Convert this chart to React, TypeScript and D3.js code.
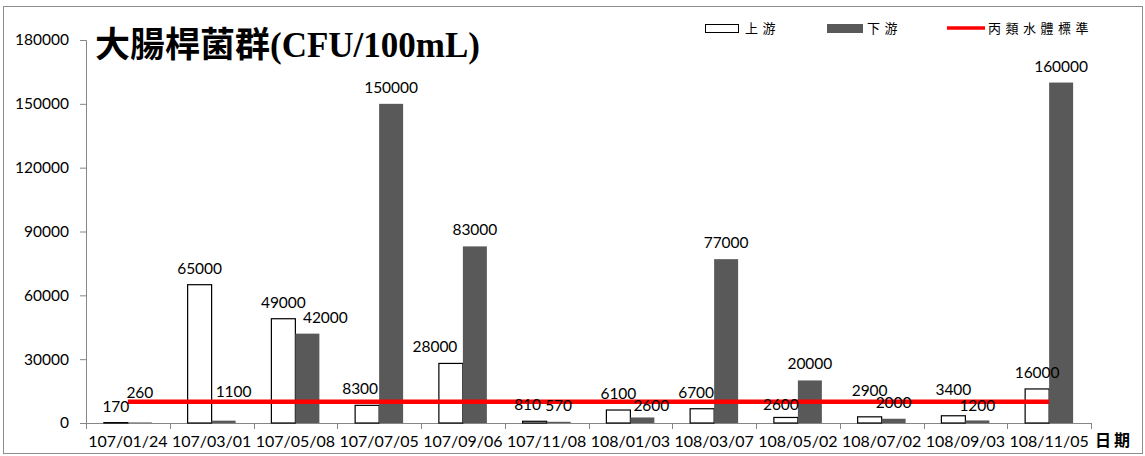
import React, { useEffect, useRef } from "react";
import * as d3 from "d3";

// sampling dates (ROC calendar)
const dates = [
  "107/01/24", "107/03/01", "107/05/08", "107/07/05", "107/09/06", "107/11/08",
  "108/01/03", "108/03/07", "108/05/02", "108/07/02", "108/09/03", "108/11/05",
];
// 上游 (upstream)
const upstream = [170, 65000, 49000, 8300, 28000, 810, 6100, 6700, 2600, 2900, 3400, 16000];
// 下游 (downstream)
const downstream = [260, 1100, 42000, 150000, 83000, 570, 2600, 77000, 20000, 2000, 1200, 160000];
// 丙類水體標準
const standard = [10000, 10000, 10000, 10000, 10000, 10000, 10000, 10000, 10000, 10000, 10000, 10000];
const yTicks = [0, 30000, 60000, 90000, 120000, 150000, 180000];

// hand nudges for the data labels, the way they were dragged in the original
const upNudge: Record<number, [number, number]> = {
  3: [-7, 0], 4: [-16, 0], 5: [-7, 0], 7: [-6, 0], 8: [-5, 3.5], 9: [0, -10], 10: [0, -10],
};
const downNudge: Record<number, [number, number]> = {
  0: [0, -13], 1: [10, -13], 2: [18, 0], 6: [9, 5], 10: [0, 2],
};

const W = 1145;
const H = 456;
const numFont = "Lato, 'Open Sans', sans-serif";
const cjkFont = "'Noto Sans CJK TC', 'Noto Sans CJK SC', sans-serif";

const App: React.FC = () => {
  const svgRef = useRef<SVGSVGElement | null>(null);

  useEffect(() => {
    const svg = d3.select(svgRef.current);
    svg.selectAll("*").remove();

    const margin = { top: 40, right: 54, bottom: 33, left: 86 };
    const x0 = margin.left;
    const x1 = W - margin.right;
    const yBase = H - margin.bottom;

    const xScale = d3.scaleBand().domain(dates).range([x0, x1]).padding(0);
    const sub = d3
      .scaleBand()
      .domain(["up", "down"])
      .range([0, xScale.bandwidth()])
      .paddingInner(0)
      .paddingOuter(0.745);
    const yScale = d3.scaleLinear().domain([0, 180000]).range([yBase, margin.top]);

    // outer frame
    svg
      .append("rect")
      .attr("x", 3.5)
      .attr("y", 6.5)
      .attr("width", W - 6)
      .attr("height", H - 9)
      .attr("fill", "white")
      .attr("stroke", "#8c8c8c")
      .attr("stroke-width", 1);

    const axisColor = "#868686";

    // y axis
    const yAxis = svg
      .append("g")
      .attr("transform", `translate(${x0},0)`)
      .call(d3.axisLeft(yScale).tickValues(yTicks).tickSize(6).tickPadding(11).tickFormat((d) => String(d)));
    yAxis.select(".domain").attr("stroke", axisColor).attr("d", `M-6,${margin.top}.5H0.5V${yBase}`);
    yAxis.selectAll(".tick line").attr("stroke", axisColor);
    yAxis
      .selectAll(".tick text")
      .attr("fill", "#000")
      .style("font-family", numFont)
      .style("font-size", "15.5px");

    // x axis
    const xAxis = svg.append("g").attr("transform", `translate(0,${yBase})`);
    xAxis
      .append("line")
      .attr("x1", x0)
      .attr("x2", x1)
      .attr("y1", 0.5)
      .attr("y2", 0.5)
      .attr("stroke", axisColor);
    const bounds = dates.map((d) => xScale(d)!).concat([x1]);
    xAxis
      .selectAll("line.tk")
      .data(bounds)
      .enter()
      .append("line")
      .attr("class", "tk")
      .attr("x1", (d) => Math.round(d) + 0.5)
      .attr("x2", (d) => Math.round(d) + 0.5)
      .attr("y1", 0)
      .attr("y2", 6)
      .attr("stroke", axisColor);
    xAxis
      .selectAll("text.lbl")
      .data(dates)
      .enter()
      .append("text")
      .attr("class", "lbl")
      .attr("x", (d) => xScale(d)! + xScale.bandwidth() / 2)
      .attr("y", 24)
      .attr("text-anchor", "middle")
      .style("font-family", numFont)
      .style("font-size", "16px")
      .text((d) => d);
    xAxis
      .append("text")
      .attr("x", x1 + 4)
      .attr("y", 23)
      .style("font-family", cjkFont)
      .style("font-weight", "bold")
      .style("font-size", "16px")
      .style("letter-spacing", "3px")
      .text("日期");

    // bars
    const groups = svg
      .append("g")
      .selectAll("g")
      .data(dates)
      .enter()
      .append("g")
      .attr("transform", (d) => `translate(${xScale(d)},0)`);

    groups
      .append("rect")
      .attr("x", sub("up")!)
      .attr("y", (_, i) => yScale(upstream[i]))
      .attr("width", sub.bandwidth())
      .attr("height", (_, i) => yBase - yScale(upstream[i]))
      .attr("fill", "white")
      .attr("stroke", "#000")
      .attr("stroke-width", 1.2);

    groups
      .append("rect")
      .attr("x", sub("down")!)
      .attr("y", (_, i) => yScale(downstream[i]))
      .attr("width", sub.bandwidth())
      .attr("height", (_, i) => yBase - yScale(downstream[i]))
      .attr("fill", "#595959");

    // standard line (under the labels)
    const line = d3
      .line<number>()
      .x((_, i) => xScale(dates[i])! + xScale.bandwidth() / 2)
      .y((d) => yScale(d));
    svg
      .append("path")
      .datum(standard)
      .attr("d", line)
      .attr("fill", "none")
      .attr("stroke", "#ff0000")
      .attr("stroke-width", 4.5);

    // data labels
    const labels = svg
      .append("g")
      .selectAll("g")
      .data(dates)
      .enter()
      .append("g")
      .attr("transform", (d) => `translate(${xScale(d)},0)`)
      .attr("text-anchor", "middle")
      .style("font-family", numFont)
      .style("font-size", "15.5px")
      .attr("fill", "#000");

    labels
      .append("text")
      .attr("x", (_, i) => sub("up")! + sub.bandwidth() / 2 + (upNudge[i]?.[0] ?? 0))
      .attr("y", (_, i) => yScale(upstream[i]) - 11 + (upNudge[i]?.[1] ?? 0))
      .text((_, i) => String(upstream[i]));

    labels
      .append("text")
      .attr("x", (_, i) => sub("down")! + sub.bandwidth() / 2 + (downNudge[i]?.[0] ?? 0))
      .attr("y", (_, i) => yScale(downstream[i]) - 11 + (downNudge[i]?.[1] ?? 0))
      .text((_, i) => String(downstream[i]));

    // title
    svg
      .append("text")
      .attr("x", 95)
      .attr("y", 57)
      .style("font-family", "'Liberation Serif', 'Noto Sans CJK TC', serif")
      .style("font-weight", "bold")
      .style("font-size", "35px")
      .text("大腸桿菌群(CFU/100mL)");

    // legend
    const lg = svg.append("g").style("font-family", cjkFont).style("font-size", "13px");
    lg.append("rect")
      .attr("x", 705.5)
      .attr("y", 24.5)
      .attr("width", 33)
      .attr("height", 8)
      .attr("fill", "white")
      .attr("stroke", "#000");
    lg.append("text").attr("x", 745).attr("y", 33).style("letter-spacing", "4.5px").text("上游");
    lg.append("rect")
      .attr("x", 827)
      .attr("y", 24)
      .attr("width", 36)
      .attr("height", 9)
      .attr("fill", "#595959");
    lg.append("text").attr("x", 867).attr("y", 33).style("letter-spacing", "4.5px").text("下游");
    lg.append("line")
      .attr("x1", 947)
      .attr("x2", 985)
      .attr("y1", 28)
      .attr("y2", 28)
      .attr("stroke", "#ff0000")
      .attr("stroke-width", 3.5);
    lg.append("text").attr("x", 988).attr("y", 33).style("letter-spacing", "4.5px").text("丙類水體標準");
  }, []);

  return (
    <svg
      ref={svgRef}
      width={W}
      height={H}
      style={{ position: "absolute", left: 0, top: 0, background: "white" }}
    ></svg>
  );
};

export default App;
